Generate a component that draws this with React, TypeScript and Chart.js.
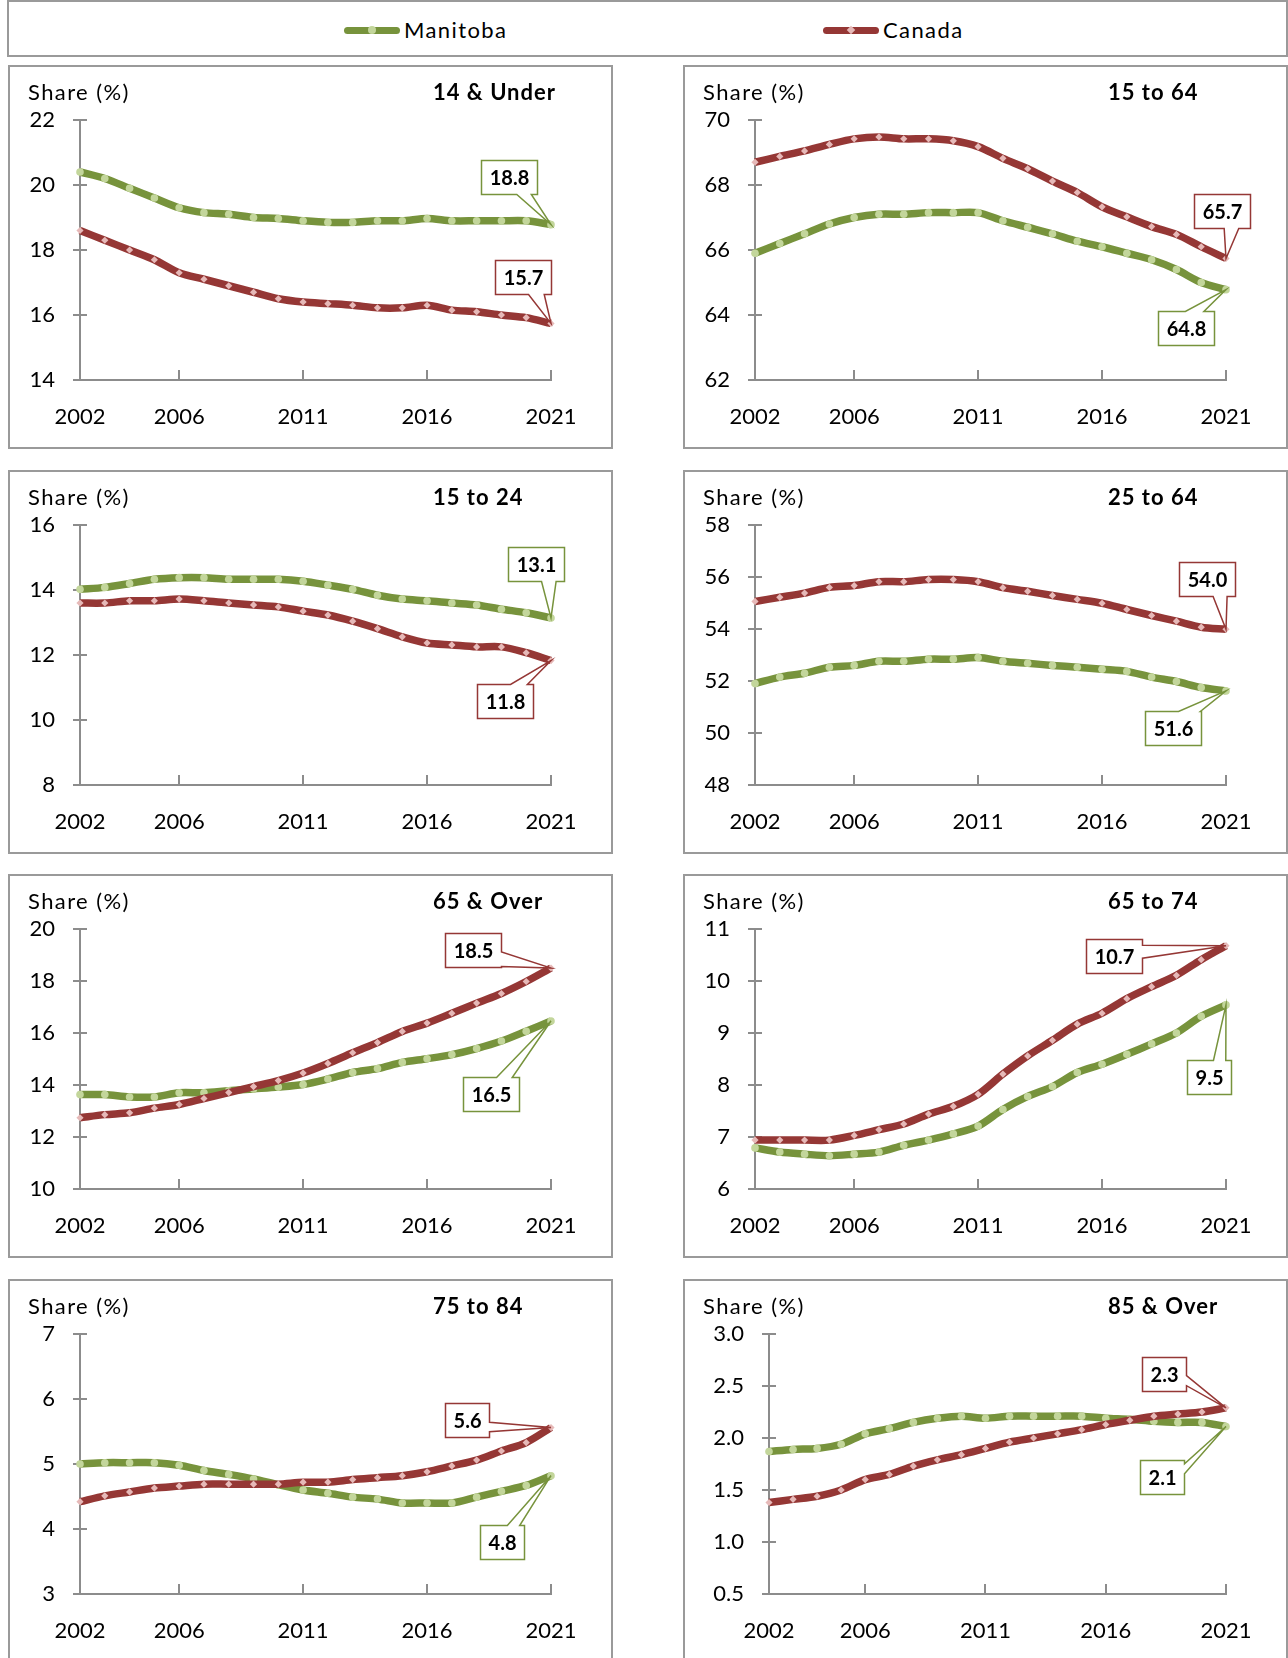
import React, { useEffect, useRef } from "react";
import { Chart, registerables } from "chart.js";

Chart.register(...registerables);

// ---------- data ----------
const years = [
  "2002", "2003", "2004", "2005", "2006", "2007", "2008", "2009", "2010", "2011",
  "2012", "2013", "2014", "2015", "2016", "2017", "2018", "2019", "2020", "2021",
];
const xTickYears = ["2002", "2006", "2011", "2016", "2021"];
const xMarkYears = ["2006", "2011", "2016", "2021"];

const seriesNames = ["Manitoba", "Canada"];

const mb14 = [20.4, 20.2, 19.9, 19.6, 19.3, 19.15, 19.1, 19.0, 18.97, 18.9, 18.85, 18.85, 18.9, 18.9, 18.97, 18.9, 18.9, 18.9, 18.9, 18.78];
const ca14 = [18.6, 18.3, 18.0, 17.7, 17.3, 17.1, 16.9, 16.7, 16.5, 16.4, 16.35, 16.3, 16.22, 16.22, 16.3, 16.15, 16.1, 16.0, 15.92, 15.74];

const mb1564 = [65.9, 66.2, 66.5, 66.8, 67.0, 67.1, 67.1, 67.15, 67.15, 67.15, 66.9, 66.7, 66.5, 66.27, 66.1, 65.9, 65.7, 65.4, 65.0, 64.78];
const ca1564 = [68.7, 68.88, 69.05, 69.25, 69.42, 69.48, 69.42, 69.42, 69.36, 69.18, 68.82, 68.5, 68.12, 67.77, 67.33, 67.02, 66.72, 66.48, 66.1, 65.74];

const mb1524 = [14.02, 14.08, 14.2, 14.33, 14.38, 14.38, 14.33, 14.33, 14.33, 14.27, 14.15, 14.02, 13.84, 13.72, 13.67, 13.6, 13.54, 13.41, 13.3, 13.14];
const ca1524 = [13.6, 13.6, 13.67, 13.67, 13.72, 13.67, 13.6, 13.54, 13.48, 13.35, 13.23, 13.04, 12.81, 12.56, 12.37, 12.31, 12.25, 12.25, 12.07, 11.83];

const mb2564 = [51.9, 52.15, 52.3, 52.53, 52.6, 52.76, 52.76, 52.84, 52.84, 52.9, 52.76, 52.68, 52.6, 52.53, 52.45, 52.37, 52.15, 51.98, 51.75, 51.62];
const ca2564 = [55.06, 55.22, 55.38, 55.6, 55.67, 55.82, 55.82, 55.9, 55.9, 55.82, 55.59, 55.45, 55.29, 55.14, 54.99, 54.75, 54.52, 54.3, 54.07, 53.99];

const mb65 = [13.63, 13.63, 13.54, 13.54, 13.7, 13.7, 13.78, 13.85, 13.92, 14.02, 14.23, 14.48, 14.63, 14.87, 15.01, 15.17, 15.4, 15.69, 16.07, 16.46];
const ca65 = [12.74, 12.86, 12.93, 13.11, 13.25, 13.48, 13.71, 13.94, 14.17, 14.46, 14.83, 15.24, 15.63, 16.06, 16.38, 16.76, 17.15, 17.52, 17.98, 18.5];

const mb6574 = [6.79, 6.71, 6.67, 6.64, 6.67, 6.71, 6.84, 6.94, 7.06, 7.21, 7.53, 7.78, 7.97, 8.24, 8.4, 8.59, 8.79, 9.0, 9.32, 9.54];
const ca6574 = [6.94, 6.94, 6.94, 6.94, 7.03, 7.14, 7.25, 7.44, 7.59, 7.82, 8.21, 8.56, 8.86, 9.17, 9.38, 9.66, 9.89, 10.11, 10.41, 10.68];

const mb7584 = [5.0, 5.02, 5.02, 5.02, 4.98, 4.9, 4.84, 4.77, 4.68, 4.6, 4.55, 4.49, 4.46, 4.4, 4.4, 4.4, 4.49, 4.58, 4.67, 4.82];
const ca7584 = [4.42, 4.51, 4.57, 4.63, 4.66, 4.69, 4.69, 4.69, 4.69, 4.72, 4.72, 4.76, 4.79, 4.82, 4.88, 4.97, 5.06, 5.2, 5.33, 5.56];

const mb85 = [1.87, 1.89, 1.9, 1.94, 2.04, 2.09, 2.15, 2.19, 2.21, 2.19, 2.21, 2.21, 2.21, 2.21, 2.19, 2.18, 2.16, 2.15, 2.15, 2.11];
const ca85 = [1.38, 1.41, 1.44, 1.5, 1.6, 1.65, 1.73, 1.79, 1.84, 1.9, 1.96, 2.0, 2.04, 2.08, 2.13, 2.17, 2.21, 2.23, 2.25, 2.29];

// ---------- styles ----------
const GREEN = "#77933c";
const RED = "#953735";
const GREEN_MK = "#c3d69b";
const RED_MK = "#e6b9b8";
const AXIS = "#8c8c8c";
const FRAME = "#9a9a9a";
const FONT = "Lato";

type Side = "top" | "bottom" | "left" | "right";
type Callout = { dx: number; dy: number; side: Side; f: [number, number] };
type PanelSpec = {
  title: string;
  mb: number[];
  ca: number[];
  min: number;
  max: number;
  step: number;
  dec: number;
  left: number;
  top: number;
  axisW: number;
  mbCall: Callout;
  caCall: Callout;
};

const COL = [8, 683];
const ROW = [65, 470, 874, 1279];
const PW = 605;
const PH = 384;

const panels: PanelSpec[] = [
  {
    title: "14 & Under", mb: mb14, ca: ca14, min: 14, max: 22, step: 2, dec: 0,
    left: COL[0], top: ROW[0], axisW: 72,
    mbCall: { dx: -42, dy: -48, side: "bottom", f: [0.63, 0.89] },
    caCall: { dx: -28, dy: -46, side: "bottom", f: [0.59, 0.87] },
  },
  {
    title: "15 to 64", mb: mb1564, ca: ca1564, min: 62, max: 70, step: 2, dec: 0,
    left: COL[1], top: ROW[0], axisW: 72,
    mbCall: { dx: -40, dy: 38, side: "top", f: [0.48, 0.81] },
    caCall: { dx: -4, dy: -47, side: "bottom", f: [0.53, 0.79] },
  },
  {
    title: "15 to 24", mb: mb1524, ca: ca1524, min: 8, max: 16, step: 2, dec: 0,
    left: COL[0], top: ROW[1], axisW: 72,
    mbCall: { dx: -15, dy: -54, side: "bottom", f: [0.59, 0.85] },
    caCall: { dx: -46, dy: 40, side: "top", f: [0.59, 0.89] },
  },
  {
    title: "25 to 64", mb: mb2564, ca: ca2564, min: 48, max: 58, step: 2, dec: 0,
    left: COL[1], top: ROW[1], axisW: 72,
    mbCall: { dx: -53, dy: 37, side: "top", f: [0.59, 0.98] },
    caCall: { dx: -19, dy: -50, side: "bottom", f: [0.6, 0.85] },
  },
  {
    title: "65 & Over", mb: mb65, ca: ca65, min: 10, max: 20, step: 2, dec: 0,
    left: COL[0], top: ROW[2], axisW: 72,
    mbCall: { dx: -60, dy: 73, side: "top", f: [0.59, 0.87] },
    caCall: { dx: -78, dy: -18, side: "right", f: [0.54, 0.97] },
  },
  {
    title: "65 to 74", mb: mb6574, ca: ca6574, min: 6, max: 11, step: 1, dec: 0,
    left: COL[1], top: ROW[2], axisW: 72,
    mbCall: { dx: -17, dy: 72, side: "top", f: [0.59, 0.87] },
    caCall: { dx: -112, dy: 10, side: "right", f: [0.17, 0.55] },
  },
  {
    title: "75 to 84", mb: mb7584, ca: ca7584, min: 3, max: 7, step: 1, dec: 0,
    left: COL[0], top: ROW[3], axisW: 72,
    mbCall: { dx: -49, dy: 66, side: "top", f: [0.61, 0.89] },
    caCall: { dx: -84, dy: -8, side: "right", f: [0.55, 0.83] },
  },
  {
    title: "85 & Over", mb: mb85, ca: ca85, min: 0.5, max: 3.0, step: 0.5, dec: 1,
    left: COL[1], top: ROW[3], axisW: 86,
    mbCall: { dx: -64, dy: 50, side: "right", f: [0.1, 0.39] },
    caCall: { dx: -62, dy: -34, side: "right", f: [0.53, 0.83] },
  },
];

const fmt1 = (v: number) => (Math.round(v * 10 + 1e-6) / 10).toFixed(1);

function drawCallout(
  ctx: CanvasRenderingContext2D,
  px: number,
  py: number,
  text: string,
  color: string,
  c: Callout
) {
  ctx.save();
  ctx.font = `bold 20px ${FONT}`;
  const tw = ctx.measureText(text).width;
  const w = Math.round(tw + 16);
  const h = 34;
  const cx = px + c.dx;
  const cy = py + c.dy;
  const l = Math.round(cx - w / 2) + 0.5;
  const t = Math.round(cy - h / 2) + 0.5;
  const r = l + w;
  const b = t + h;
  ctx.beginPath();
  ctx.moveTo(l, t);
  if (c.side === "top") {
    ctx.lineTo(l + w * c.f[0], t);
    ctx.lineTo(px, py);
    ctx.lineTo(l + w * c.f[1], t);
  }
  ctx.lineTo(r, t);
  if (c.side === "right") {
    ctx.lineTo(r, t + h * c.f[0]);
    ctx.lineTo(px, py);
    ctx.lineTo(r, t + h * c.f[1]);
  }
  ctx.lineTo(r, b);
  if (c.side === "bottom") {
    ctx.lineTo(l + w * c.f[1], b);
    ctx.lineTo(px, py);
    ctx.lineTo(l + w * c.f[0], b);
  }
  ctx.lineTo(l, b);
  if (c.side === "left") {
    ctx.lineTo(l, t + h * c.f[1]);
    ctx.lineTo(px, py);
    ctx.lineTo(l, t + h * c.f[0]);
  }
  ctx.closePath();
  ctx.fillStyle = "#ffffff";
  ctx.fill();
  ctx.strokeStyle = color;
  ctx.lineWidth = 1.5;
  ctx.stroke();
  ctx.fillStyle = "#000";
  ctx.textAlign = "center";
  ctx.textBaseline = "middle";
  ctx.fillText(text, (l + r) / 2, (t + b) / 2 + 1);
  ctx.restore();
}

function PanelChart({ p }: { p: PanelSpec }) {
  const ref = useRef<HTMLCanvasElement>(null);
  useEffect(() => {
    const canvas = ref.current;
    if (!canvas) return;

    const decor = {
      id: "decor",
      beforeDatasetsDraw(chart: any) {
        const ctx: CanvasRenderingContext2D = chart.ctx;
        const xs = chart.scales.x;
        const ys = chart.scales.y;
        const area = chart.chartArea;
        ctx.save();
        ctx.strokeStyle = AXIS;
        ctx.lineWidth = 2;
        xMarkYears.forEach((yr) => {
          const idx = years.indexOf(yr);
          const x = Math.round(xs.getPixelForValue(idx));
          ctx.beginPath();
          ctx.moveTo(x, area.bottom);
          ctx.lineTo(x, area.bottom - 10);
          ctx.stroke();
        });
        ys.ticks.forEach((tk: any) => {
          const y = Math.round(ys.getPixelForValue(tk.value));
          ctx.beginPath();
          ctx.moveTo(area.left, y);
          ctx.lineTo(area.left + 7, y);
          ctx.stroke();
        });
        ctx.restore();
      },
      afterDatasetsDraw(chart: any) {
        const ctx: CanvasRenderingContext2D = chart.ctx;
        const last = years.length - 1;
        const mPt = chart.getDatasetMeta(0).data[last];
        const cPt = chart.getDatasetMeta(1).data[last];
        drawCallout(ctx, mPt.x, mPt.y, fmt1(p.mb[last]), GREEN, p.mbCall);
        drawCallout(ctx, cPt.x, cPt.y, fmt1(p.ca[last]), RED, p.caCall);
      },
    };

    const chart = new Chart(canvas, {
      type: "line",
      data: {
        labels: years,
        datasets: [
          {
            label: seriesNames[0],
            data: p.mb,
            borderColor: GREEN,
            borderWidth: 7.5,
            tension: 0.3,
            pointStyle: "circle",
            pointRadius: 3.8,
            pointBackgroundColor: GREEN_MK,
            pointBorderWidth: 0,
            order: 1,
          },
          {
            label: seriesNames[1],
            data: p.ca,
            borderColor: RED,
            borderWidth: 7.5,
            tension: 0.3,
            pointStyle: "rectRot",
            pointRadius: 3.6,
            pointBackgroundColor: RED_MK,
            pointBorderWidth: 0,
            order: 0,
          },
        ],
      },
      options: {
        animation: false,
        responsive: false,
        maintainAspectRatio: false,
        layout: { padding: { top: 55, right: 62, left: 0, bottom: 0 } },
        plugins: {
          legend: { display: false },
          tooltip: { enabled: false },
          title: { display: false },
        },
        scales: {
          x: {
            type: "category",
            offset: false,
            grid: { display: true, drawOnChartArea: false, drawTicks: false, color: AXIS },
            border: { display: true, color: AXIS, width: 2 },
            ticks: {
              autoSkip: false,
              maxRotation: 0,
              minRotation: 0,
              padding: 24,
              color: "#000",
              font: { family: FONT, size: 22 },
              callback: (_v: any, i: number) => (xTickYears.includes(years[i]) ? years[i] : ""),
            },
            afterFit: (s: any) => {
              s.height = PH - 315;
            },
          },
          y: {
            min: p.min,
            max: p.max,
            grid: {
              display: true,
              drawOnChartArea: false,
              drawTicks: true,
              tickLength: 7,
              color: AXIS,
              lineWidth: 2,
            },
            border: { display: true, color: AXIS, width: 2 },
            ticks: {
              stepSize: p.step,
              padding: 18,
              color: "#000",
              font: { family: FONT, size: 22 },
              callback: (v: any) => Number(v).toFixed(p.dec),
            },
            afterFit: (s: any) => {
              s.width = p.axisW;
            },
          },
        },
      } as any,
      plugins: [decor],
    });
    return () => chart.destroy();
  }, [p]);

  return (
    <canvas
      ref={ref}
      width={PW}
      height={PH}
      style={{ position: "absolute", left: 0, top: 0, width: PW, height: PH }}
    />
  );
}

function Panel({ p }: { p: PanelSpec }) {
  return (
    <div style={{ position: "absolute", left: p.left, top: p.top, width: PW, height: PH }}>
      <div
        style={{
          position: "absolute",
          left: 0,
          top: 0,
          width: PW,
          height: PH,
          border: `2px solid ${FRAME}`,
          boxSizing: "border-box",
        }}
      />
      <PanelChart p={p} />
      <div
        style={{
          position: "absolute",
          left: 20,
          top: 14,
          fontFamily: FONT,
          fontSize: 22,
          lineHeight: "26px",
          letterSpacing: "1.4px",
          whiteSpace: "nowrap",
          color: "#000",
        }}
      >
        Share (%)
      </div>
      <div
        style={{
          position: "absolute",
          left: 425,
          top: 14,
          fontFamily: FONT,
          fontWeight: 700,
          fontSize: 22,
          lineHeight: "26px",
          letterSpacing: "1px",
          whiteSpace: "nowrap",
          color: "#000",
        }}
      >
        {p.title}
      </div>
    </div>
  );
}

function LegendItem({ x, label, color, marker, diamond }: { x: number; label: string; color: string; marker: string; diamond: boolean }) {
  return (
    <>
      <div
        style={{
          position: "absolute",
          left: x,
          top: 27,
          width: 56,
          height: 7,
          borderRadius: 4,
          background: color,
        }}
      />
      <div
        style={{
          position: "absolute",
          left: x + 24,
          top: 26,
          width: diamond ? 6 : 8,
          height: diamond ? 6 : 8,
          marginLeft: diamond ? 1 : 0,
          marginTop: diamond ? 1 : 0,
          borderRadius: diamond ? 0 : 4,
          transform: diamond ? "rotate(45deg)" : undefined,
          background: marker,
        }}
      />
      <div
        style={{
          position: "absolute",
          left: x + 60,
          top: 17,
          fontFamily: FONT,
          fontSize: 22,
          lineHeight: "26px",
          letterSpacing: "1.4px",
          whiteSpace: "nowrap",
          color: "#000",
        }}
      >
        {label}
      </div>
    </>
  );
}

export default function App() {
  return (
    <div
      style={{
        position: "absolute",
        left: 0,
        top: 0,
        width: 1288,
        height: 1658,
        overflow: "hidden",
        background: "#fff",
        fontFamily: FONT,
      }}
    >
      <div
        style={{
          position: "absolute",
          left: 7,
          top: 0,
          width: 1281,
          height: 57,
          border: `2px solid ${FRAME}`,
          boxSizing: "border-box",
        }}
      />
      <LegendItem x={344} label={seriesNames[0]} color={GREEN} marker={GREEN_MK} diamond={false} />
      <LegendItem x={823} label={seriesNames[1]} color={RED} marker={RED_MK} diamond={true} />
      {panels.map((p) => (
        <Panel key={p.title} p={p} />
      ))}
    </div>
  );
}
